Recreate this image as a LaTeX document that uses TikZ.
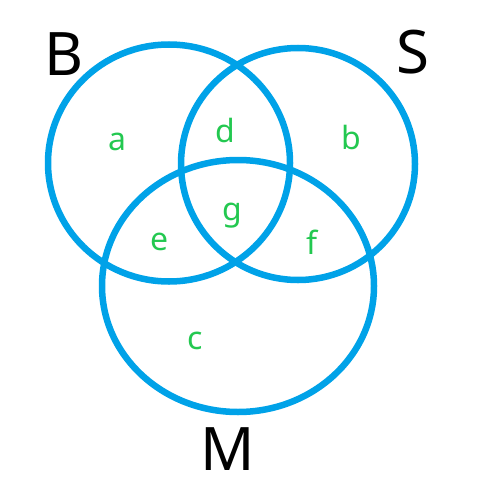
\documentclass[tikz,border=0pt]{standalone}
\usepackage{fontspec}
\setmainfont{Noto Sans}
\usepackage{xcolor}
\usetikzlibrary{positioning}

\definecolor{setblue}{RGB}{0,162,232}
\definecolor{regiongreen}{RGB}{35,200,80}

\begin{document}
\begin{tikzpicture}[
		x=1pt, y=-1pt,
		setline/.style={draw=setblue, line width=6.5pt},
		setname/.style={anchor=base, inner sep=0pt, font=\fontsize{60}{60}\selectfont},
		region/.style={anchor=base, inner sep=0pt, text=regiongreen, font=\fontsize{32}{32}\selectfont}
	]
	
	\useasboundingbox (0,0) rectangle (483,487);
	
	% Sets
	\draw[setline] (169,163) ellipse [x radius=121, y radius=118.5];
	\draw[setline] (298,164) ellipse [x radius=117, y radius=116];
	\draw[setline] (238,286) ellipse [x radius=136, y radius=126];
	
	% Set names
	\node[setname] (nameB) at (64,75) {B};
	\node[setname] (nameS) at (413,74) {S};
	\node[setname] (nameM) at (228,470) {M};
	
	% Regions
	\node[region] (ra) at (117,150) {a};
	\node[region] (rb) at (351,149) {b};
	\node[region] (rc) at (195,349) {c};
	\node[region] (rd) at (225,142) {d};
	\node[region] (re) at (160,250) {e};
	\node[region] (rf) at (312,254) {f};
	\node[region] (rg) at (232,220) {g};
	
\end{tikzpicture}
\end{document}
